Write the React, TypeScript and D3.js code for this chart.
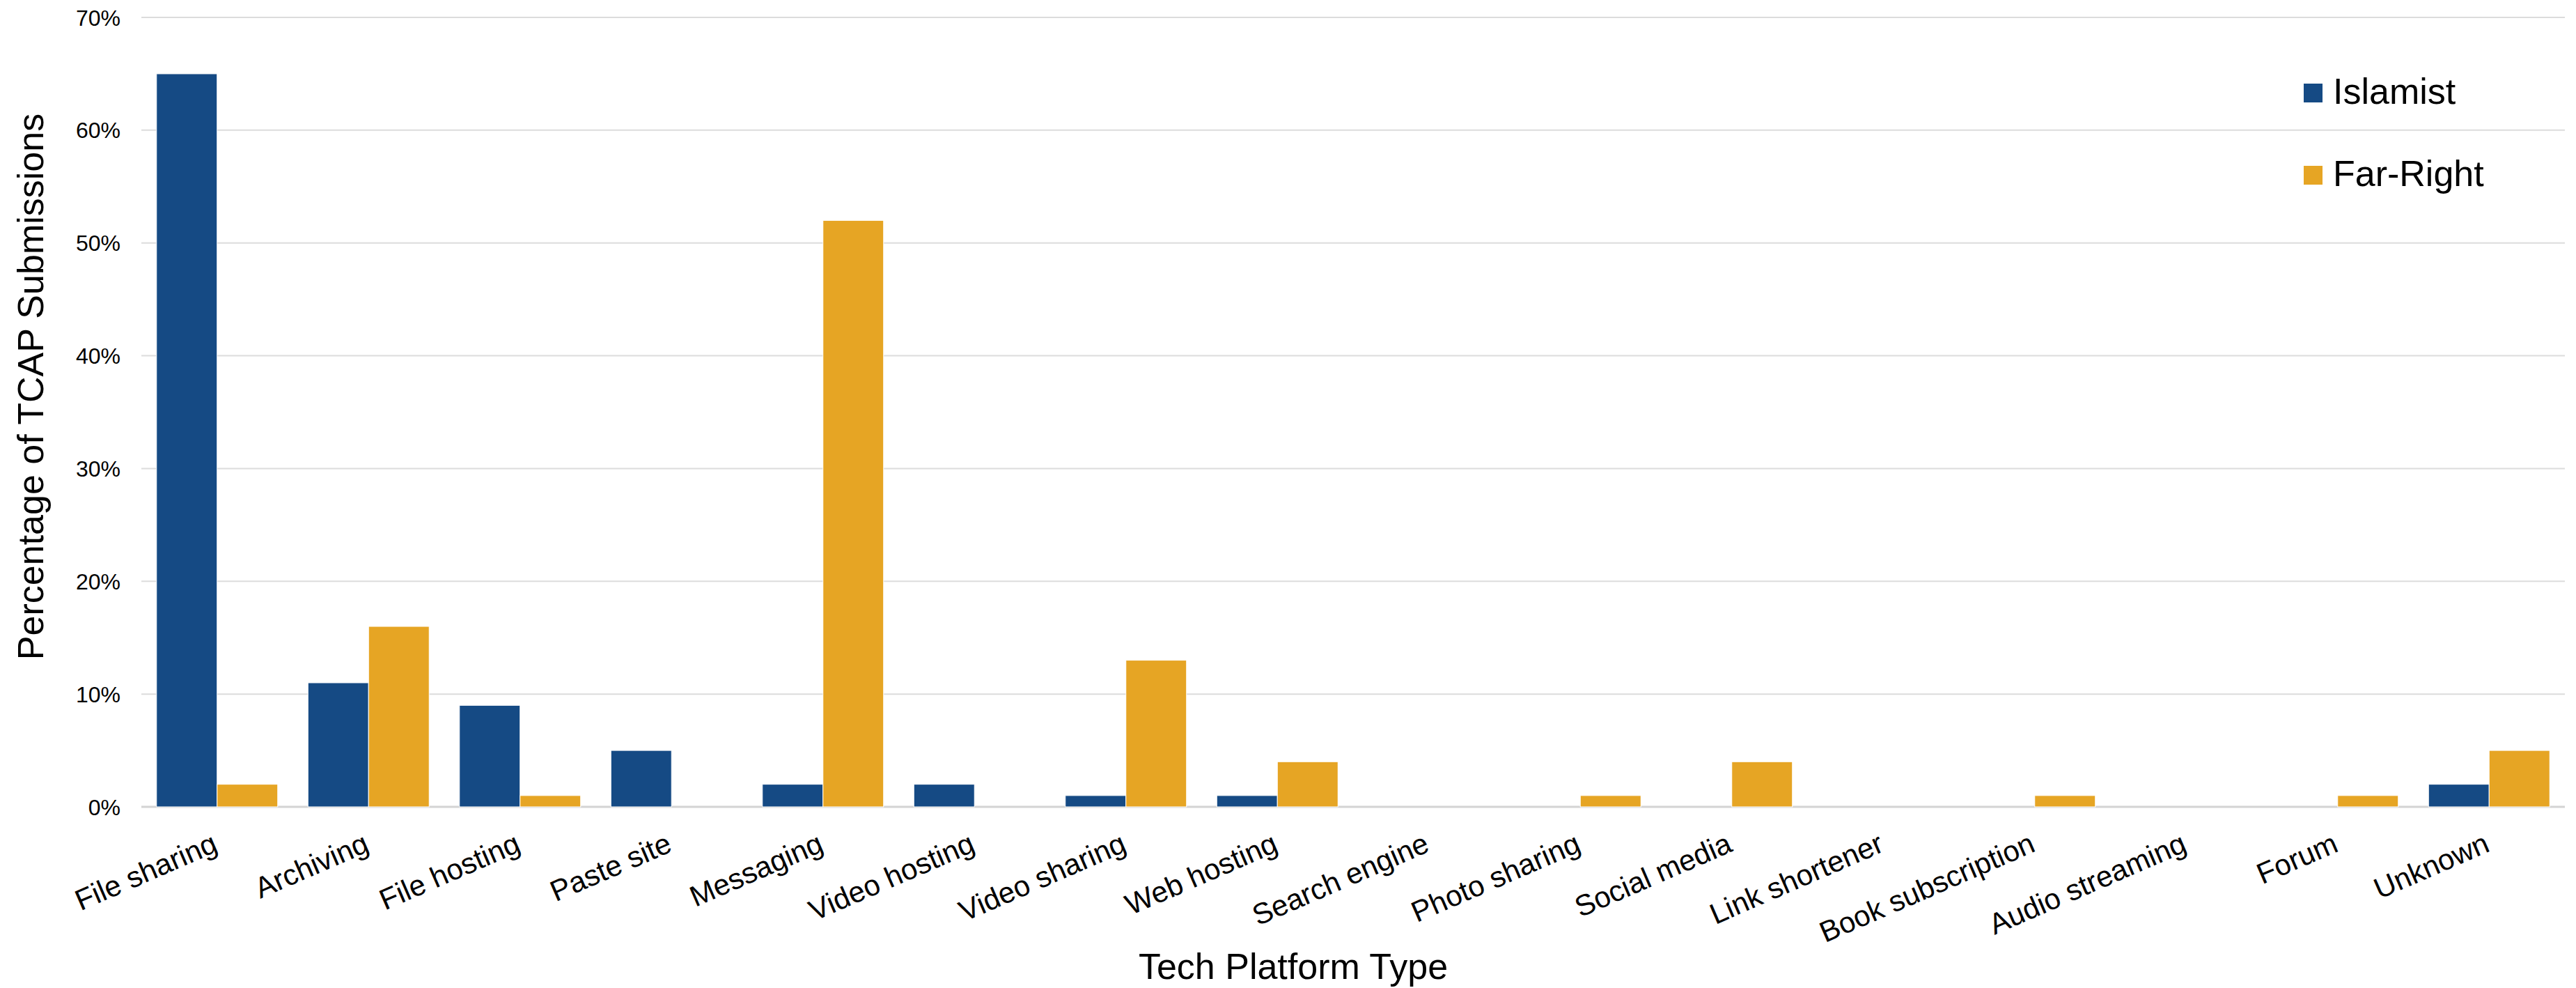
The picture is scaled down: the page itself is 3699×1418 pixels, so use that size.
import React from "react";
import * as d3 from "d3";

const categories = [
  "File sharing",
  "Archiving",
  "File hosting",
  "Paste site",
  "Messaging",
  "Video hosting",
  "Video sharing",
  "Web hosting",
  "Search engine",
  "Photo sharing",
  "Social media",
  "Link shortener",
  "Book subscription",
  "Audio streaming",
  "Forum",
  "Unknown",
];

const seriesNames = ["Islamist", "Far-Right"];
const islamist = [65, 11, 9, 5, 2, 2, 1, 1, 0, 0, 0, 0, 0, 0, 0, 2];
const farRight = [2, 16, 1, 0, 52, 0, 13, 4, 0, 1, 4, 0, 1, 0, 1, 5];
const seriesColors = ["#154A84", "#E6A524"];
const yTicks = [0, 10, 20, 30, 40, 50, 60, 70];

const W = 3699;
const H = 1418;
const FONT = "'Liberation Sans', Arial, Helvetica, sans-serif";

export default function App() {
  const values = [islamist, farRight];
  const x0 = d3
    .scaleBand<string>()
    .domain(categories)
    .range([203, 3683])
    .paddingInner(0.2)
    .paddingOuter(0.1);
  const x1 = d3
    .scaleBand<string>()
    .domain(seriesNames)
    .range([0, x0.bandwidth()])
    .padding(0);
  const y = d3.scaleLinear().domain([0, 70]).range([1158, 25]);
  const color = d3.scaleOrdinal<string, string>().domain(seriesNames).range(seriesColors);

  return (
    <svg
      width={W}
      height={H}
      style={{ position: "absolute", left: 0, top: 0, display: "block", background: "#fff" }}
      fontFamily={FONT}
    >
      <rect x={0} y={0} width={W} height={H} fill="#fff" />
      {/* gridlines */}
      {yTicks.map((t) => (
        <line
          key={"g" + t}
          x1={203}
          x2={3683}
          y1={y(t)}
          y2={y(t)}
          stroke={t === 0 ? "#d4d4d4" : "#dcdcdc"}
          strokeWidth={t === 0 ? 3 : 2}
        />
      ))}
      {/* y tick labels */}
      {yTicks.map((t) => (
        <text
          key={"yt" + t}
          x={173}
          y={y(t)}
          dy="0.36em"
          textAnchor="end"
          fontSize={32}
          fill="#000"
        >
          {d3.format(".0f")(t) + "%"}
        </text>
      ))}
      {/* bars */}
      {categories.map((c, i) => (
        <g key={c} transform={`translate(${x0(c)},0)`}>
          {seriesNames.map((s, k) => {
            const v = values[k][i];
            if (v <= 0) return null;
            return (
              <rect
                key={s}
                x={x1(s)}
                y={y(v)}
                width={x1.bandwidth()}
                height={y(0) - y(v)}
                fill={color(s)}
                stroke="#ffffff"
                strokeWidth={1}
              />
            );
          })}
        </g>
      ))}
      {/* x labels */}
      {categories.map((c) => {
        const cx = (x0(c) as number) + x0.bandwidth() / 2 + 3;
        return (
          <text
            key={"xl" + c}
            transform={`translate(${cx},1221) rotate(-23.5)`}
            textAnchor="end"
            fontSize={42}
            fill="#000"
          >
            {c}
          </text>
        );
      })}
      {/* axis titles */}
      <text x={1857} y={1405} textAnchor="middle" fontSize={52} fill="#000">
        Tech Platform Type
      </text>
      <text
        transform={`translate(62,555) rotate(-90)`}
        textAnchor="middle"
        fontSize={52}
        fill="#000"
      >
        Percentage of TCAP Submissions
      </text>
      {/* legend */}
      {seriesNames.map((s, k) => (
        <g key={"lg" + s} transform={`translate(3308,${120 + k * 118})`}>
          <rect x={0} y={0} width={27} height={27} fill={color(s)} />
          <text x={42} y={29} fontSize={52} fill="#000">
            {s}
          </text>
        </g>
      ))}
    </svg>
  );
}
